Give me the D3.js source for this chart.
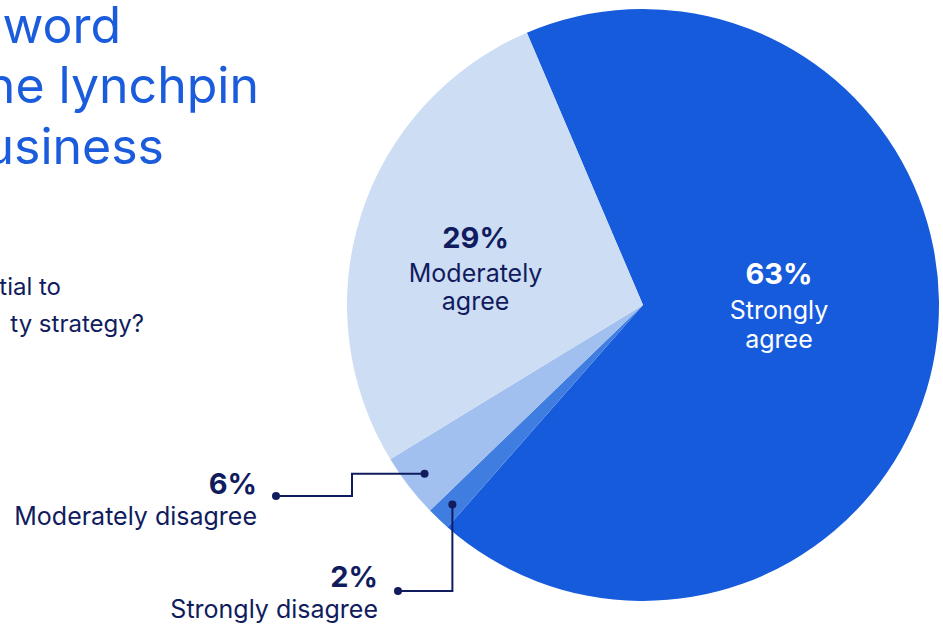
<!DOCTYPE html>
<html>
<head>
<meta charset="utf-8">
<script src="https://cdn.jsdelivr.net/npm/d3@7"></script>
<style>
  html, body { margin: 0; padding: 0; background: #ffffff; overflow: hidden; }
  svg { display: block; font-family: Inter, "DejaVu Sans", sans-serif; }
</style>
</head>
<body>
<svg id="chart" width="943" height="626"></svg>
<script>
// ---- data ----
const categories = ["Strongly agree", "Strongly disagree", "Moderately disagree", "Moderately agree"];
const labelPercents = ["63%", "2%", "6%", "29%"];
// slice shares as drawn in the picture (angles measured, in %)
const sliceShares = [67.9, 1.3, 3.5, 27.3];
const sliceColors = ["#165BDC", "#407DE0", "#A1BFEF", "#CDDDF4"];
const titleLines = ["sword", "he lynchpin", "usiness"];
const subtitleLines = ["tial to", "ty strategy?"];

// ---- layout ----
const svg = d3.select("#chart");
const navy = "#111C5E";
const cx = 643, cy = 305, R = 296;
const startDeg = -23.1;

// title (cropped at left edge, as in the reference)
const titleEnds = [121, 259, 164];
const titleBase = [43, 103, 164];
titleLines.forEach((t, i) => {
  svg.append("text")
    .attr("x", titleEnds[i]).attr("y", titleBase[i])
    .attr("text-anchor", "end")
    .attr("font-size", 50).attr("font-weight", 400)
    .attr("fill", "#1A5CDB")
    .text(t);
});
const subEnds = [61, 144];
const subBase = [295, 332];
subtitleLines.forEach((t, i) => {
  svg.append("text")
    .attr("x", subEnds[i]).attr("y", subBase[i])
    .attr("text-anchor", "end")
    .attr("font-size", 24)
    .attr("fill", navy)
    .text(t);
});

// pie
const data = categories.map((c, i) => ({ cat: c, pct: labelPercents[i], share: sliceShares[i], color: sliceColors[i] }));
const start = startDeg * Math.PI / 180;
const pie = d3.pie().sort(null).value(d => d.share).startAngle(start).endAngle(start + 2 * Math.PI);
const arcs = pie(data);
const arc = d3.arc().innerRadius(0).outerRadius(R);
const g = svg.append("g").attr("transform", `translate(${cx},${cy})`);
g.selectAll("path.slice").data(arcs).enter().append("path")
  .attr("class", "slice")
  .attr("d", arc)
  .attr("fill", d => d.data.color);

function polar(r, a) { return [r * Math.sin(a), -r * Math.cos(a)]; }

// inside labels (big slices)
const inside = [
  { idx: 0, r: 136, da: -8.5 * Math.PI / 180, fill: "#ffffff", lines: ["Strongly", "agree"], gap: [35, 29] },
  { idx: 3, r: 171, da: -6 * Math.PI / 180, fill: navy, lines: ["Moderately", "agree"], gap: [34, 28] }
];
inside.forEach(L => {
  const d = arcs[L.idx];
  const mid = (d.startAngle + d.endAngle) / 2 + L.da;
  const [x, y] = polar(L.r, mid);
  const t = g.append("g").attr("transform", `translate(${x},${y})`);
  t.append("text").attr("text-anchor", "middle").attr("y", -22)
    .attr("font-size", 29).attr("font-weight", 700).attr("fill", L.fill).text(d.data.pct);
  t.append("text").attr("text-anchor", "middle").attr("y", -22 + L.gap[0])
    .attr("font-size", 25).attr("fill", L.fill).text(L.lines[0]);
  t.append("text").attr("text-anchor", "middle").attr("y", -22 + L.gap[0] + L.gap[1])
    .attr("font-size", 25).attr("fill", L.fill).text(L.lines[1]);
});

// outside labels with leader lines (small slices)
const outside = [
  { idx: 2, elbowX: 352, endY: 496, endX: 276, textX: 257, pctY: 494, lines: ["Moderately disagree"] },
  { idx: 1, elbowX: null, endY: 591, endX: 398, textX: 378, pctY: 587, lines: ["Strongly disagree"] }
];
outside.forEach(L => {
  const d = arcs[L.idx];
  const mid = (d.startAngle + d.endAngle) / 2;
  const [px, py] = polar(276, mid);
  const sx = cx + px, sy = cy + py;
  const pts = L.elbowX !== null
    ? [[sx, sy], [L.elbowX, sy], [L.elbowX, L.endY], [L.endX, L.endY]]
    : [[sx, sy], [sx, L.endY], [L.endX, L.endY]];
  svg.append("path")
    .attr("d", d3.line()(pts))
    .attr("fill", "none").attr("stroke", navy).attr("stroke-width", 2);
  svg.append("circle").attr("cx", sx).attr("cy", sy).attr("r", 4).attr("fill", navy);
  svg.append("circle").attr("cx", L.endX).attr("cy", L.endY).attr("r", 4).attr("fill", navy);
  svg.append("text").attr("x", L.textX).attr("y", L.pctY)
    .attr("text-anchor", "end").attr("font-size", 29).attr("font-weight", 700)
    .attr("fill", navy).text(d.data.pct);
  svg.append("text").attr("x", L.textX).attr("y", L.pctY + 31)
    .attr("text-anchor", "end").attr("font-size", 25)
    .attr("fill", navy).text(L.lines[0]);
});
</script>
</body>
</html>
